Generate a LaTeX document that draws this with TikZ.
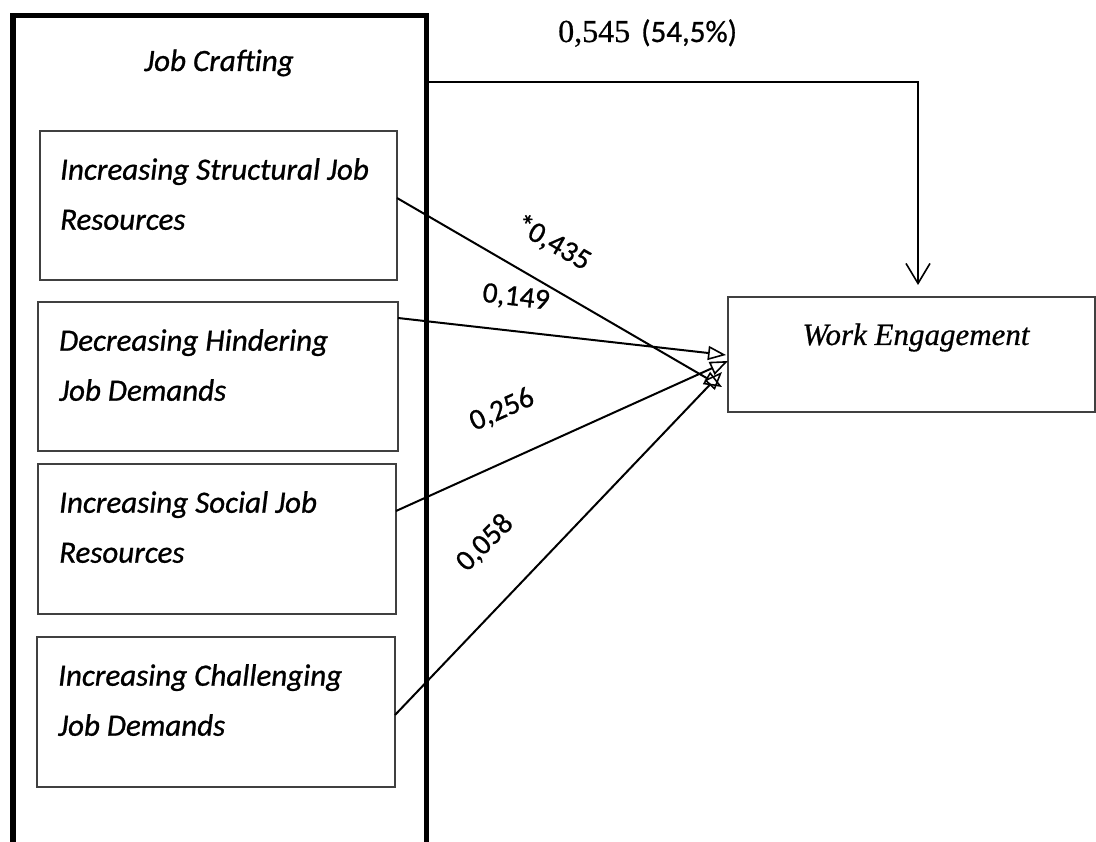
\documentclass[tikz,border=0pt]{standalone}
\usepackage{fontspec}
\setmainfont{Carlito}[FakeBold=0.8]
\newfontfamily\tnr{Liberation Serif}[FakeBold=0.6]
\usetikzlibrary{arrows.meta}
\begin{document}
\begin{tikzpicture}[x=1pt,y=-1pt,
  outerline/.style={line width=5.5pt, line cap=butt, line join=miter},
  innerbox/.style={draw=black!75, line width=1.3pt, inner sep=0pt, outer sep=0pt, anchor=north west},
  boxtext/.style={font=\fontsize{31}{50}\selectfont\itshape, align=left, inner sep=0pt, anchor=north west},
  lab/.style={font=\fontsize{29.5}{29.5}\selectfont, inner sep=0pt},
  conn/.style={line width=2pt, -{Triangle[open, length=18pt, width=14pt, line width=1.6pt]}},
  topconn/.style={line width=1.6pt, -{Straight Barb[length=20pt, width=24pt, line width=1.6pt]}}
]
\useasboundingbox (0,0) rectangle (1096,842);
% outer Job Crafting frame (bottom runs off the picture)
\draw[outerline] (13,842) -- (13,15.5) -- (426.7,15.5) -- (426.7,842);
\coordinate (jcr) at (426.7,82);
\node[anchor=base, font=\fontsize{31}{31}\selectfont\itshape, inner sep=0pt] (jc) at (219,71) {Job Crafting};
% inner boxes
\node[innerbox, minimum width=357pt, minimum height=149pt] (b1) at (40,131) {};
\node[innerbox, minimum width=360pt, minimum height=149pt] (b2) at (38,302) {};
\node[innerbox, minimum width=358pt, minimum height=150pt] (b3) at (38,464) {};
\node[innerbox, minimum width=358pt, minimum height=150pt] (b4) at (37,637) {};
\node[boxtext] (t1) at (60,158) {Increasing Structural Job\\Resources};
\node[boxtext] (t2) at (59,329) {Decreasing Hindering\\Job Demands};
\node[boxtext] (t3) at (59,491) {Increasing Social Job\\Resources};
\node[boxtext] (t4) at (58,664) {Increasing Challenging\\Job Demands};
% Work Engagement
\node[innerbox, minimum width=367pt, minimum height=115pt] (we) at (728,297) {};
\node[anchor=base, font=\tnr\itshape\fontsize{31}{31}\selectfont, inner sep=0pt] (wet) at (916,345) {Work Engagement};
% paths
\draw[conn] ([yshift=-67pt]b1.north east) -- ([xshift=-6pt,yshift=-32.5pt]we.west);
\draw[conn] ([yshift=-16pt]b2.north east) -- ([xshift=-2pt,yshift=-0.5pt]we.west);
\draw[conn] ([yshift=-47pt]b3.north east) -- ([xshift=0pt,yshift=-6.5pt]we.west);
\draw[conn] ([yshift=-78pt]b4.north east) -- ([xshift=-6pt,yshift=-17.5pt]we.west);
\draw[topconn] (jcr) -| ([xshift=6.5pt,yshift=12pt]we.north);
% labels
\node[lab, rotate=-30] (l1) at (553,243) {*0,435};
\node[lab, rotate=-7] (l2) at (516,298) {0,149};
\node[lab, rotate=24] (l3) at (502,410) {0,256};
\node[lab, rotate=45] (l4) at (485,543) {0,058};
\node[anchor=base west, inner sep=0pt] (r2) at (558,42) {{\tnr\fontsize{32}{32}\selectfont 0,545}\hspace{11pt}{\fontsize{31}{31}\selectfont (54,5\%)}};
\end{tikzpicture}
\end{document}
